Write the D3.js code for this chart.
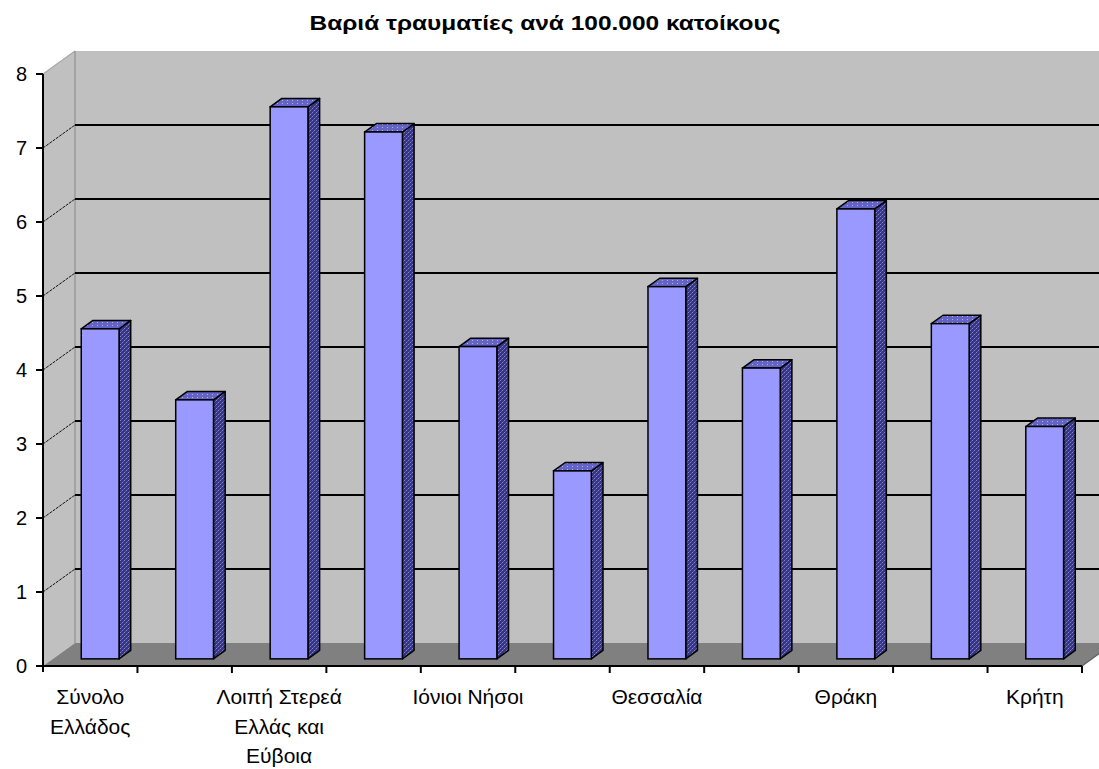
<!DOCTYPE html>
<html>
<head>
<meta charset="utf-8">
<script src="https://cdn.jsdelivr.net/npm/d3@7"></script>
<style>
  html, body { margin: 0; padding: 0; background: #fff; }
  svg { display: block; font-family: "Liberation Sans", Arial, sans-serif; }
</style>
</head>
<body>
<svg id="chart" width="1099" height="769"></svg>
<script>
// Serious injuries per 100,000 inhabitants, by region
const categories = [
  "Σύνολο Ελλάδος",
  "Περιφέρεια Πρωτευούσης",
  "Λοιπή Στερεά Ελλάς και Εύβοια",
  "Πελοπόννησος",
  "Ιόνιοι Νήσοι",
  "Ήπειρος",
  "Θεσσαλία",
  "Μακεδονία",
  "Θράκη",
  "Νήσοι Αιγαίου",
  "Κρήτη"
];
const values = [4.46, 3.50, 7.46, 7.12, 4.22, 2.54, 5.03, 3.93, 6.08, 4.53, 3.14];
const yTicks = [0, 1, 2, 3, 4, 5, 6, 7, 8];
const title = "Βαριά τραυματίες ανά 100.000 κατοίκους";

(function draw() {
  const svg = d3.select("#chart");
  const W = 1099;

  // plot frame (front plane) and 3D depth offset
  const pLeft = 43, pRight = 1082, pBottom = 666, pTop = 74;
  const DX = 32, DY = 23;          // full depth of the box
  const z0 = 0.31, z1 = 0.675;     // front/back of the columns within the depth

  const x = d3.scaleBand().domain(categories).range([pLeft, pRight])
    .paddingInner(0.6).paddingOuter(0.3);
  const xCell = d3.scaleBand().domain(categories).range([pLeft, pRight]).padding(0);
  const y = d3.scaleLinear().domain([0, 8]).range([pBottom, pTop]);

  // patterns for shaded faces
  const defs = svg.append("defs");
  const sideP = defs.append("pattern").attr("id", "sideFill")
    .attr("width", 4).attr("height", 4).attr("patternUnits", "userSpaceOnUse");
  sideP.append("rect").attr("width", 4).attr("height", 4).attr("fill", "#34348e");
  sideP.append("rect").attr("x", 0).attr("y", 0).attr("width", 1).attr("height", 1).attr("fill", "#8a8ab0");
  sideP.append("rect").attr("x", 2).attr("y", 2).attr("width", 1).attr("height", 1).attr("fill", "#8a8ab0");
  sideP.append("rect").attr("x", 1).attr("y", 3).attr("width", 1).attr("height", 1).attr("fill", "#5a5a9c");
  sideP.append("rect").attr("x", 3).attr("y", 1).attr("width", 1).attr("height", 1).attr("fill", "#5a5a9c");

  const topP = defs.append("pattern").attr("id", "topFill")
    .attr("width", 5).attr("height", 3).attr("patternUnits", "userSpaceOnUse");
  topP.append("rect").attr("width", 5).attr("height", 3).attr("fill", "#6464c8");
  topP.append("rect").attr("x", 2).attr("y", 1).attr("width", 1).attr("height", 1).attr("fill", "#b4b4cc");

  const line = d3.line();

  // back wall
  svg.append("rect")
    .attr("x", pLeft + DX).attr("y", pTop - DY)
    .attr("width", W + 40 - (pLeft + DX)).attr("height", pBottom - pTop)
    .attr("fill", "#c0c0c0");

  // side wall
  svg.append("path")
    .attr("d", line([[pLeft, y(8)], [pLeft + DX, y(8) - DY], [pLeft + DX, y(0) - DY], [pLeft, y(0)]]) + "Z")
    .attr("fill", "#c0c0c0");
  svg.append("path")
    .attr("d", line([[pLeft, y(8)], [pLeft + DX, y(8) - DY]]))
    .attr("stroke", "#a8a8a8").attr("stroke-width", 1.2).attr("fill", "none");
  svg.append("line")
    .attr("x1", pLeft + DX).attr("x2", pLeft + DX)
    .attr("y1", y(8) - DY).attr("y2", y(0) - DY)
    .attr("stroke", "#9a9a9a").attr("stroke-width", 1.5);

  // gridlines: diagonal on the side wall, horizontal on the back wall
  const grid = yTicks.filter(v => v > 0 && v < 8);
  svg.append("g").selectAll("path").data(grid).join("path")
    .attr("d", v => line([[pLeft, y(v)], [pLeft + DX, y(v) - DY]]))
    .attr("stroke", "#111").attr("stroke-width", 1).attr("stroke-dasharray", "3,1")
    .attr("fill", "none");
  svg.append("g").selectAll("line").data(grid).join("line")
    .attr("x1", pLeft + DX).attr("x2", W + 40)
    .attr("y1", v => y(v) - DY).attr("y2", v => y(v) - DY)
    .attr("stroke", "#000").attr("stroke-width", 1.8);

  // floor
  svg.append("path")
    .attr("d", line([[pLeft, y(0)], [pLeft + DX, y(0) - DY], [pRight + DX, y(0) - DY], [pRight, y(0)]]) + "Z")
    .attr("fill", "#808080");
  svg.append("path")
    .attr("d", line([[pRight, y(0)], [pRight + DX, y(0) - DY]]))
    .attr("stroke", "#606060").attr("stroke-width", 1.2).attr("fill", "none");

  // columns
  const bars = svg.append("g").selectAll("g").data(categories.map((c, i) => ({ c, v: values[i] })))
    .join("g");
  const ddx = (z1 - z0) * DX, ddy = (z1 - z0) * DY;
  bars.each(function (d) {
    const g = d3.select(this);
    const w = x.bandwidth();
    const fx = x(d.c) + z0 * DX;
    const fy0 = y(0) - z0 * DY;
    const fyv = y(d.v) - z0 * DY;
    g.append("path")
      .attr("d", line([[fx + w, fyv], [fx + w + ddx, fyv - ddy], [fx + w + ddx, fy0 - ddy], [fx + w, fy0]]) + "Z")
      .attr("fill", "url(#sideFill)").attr("stroke", "#000").attr("stroke-width", 1.5)
      .attr("stroke-linejoin", "round");
    g.append("path")
      .attr("d", line([[fx, fyv], [fx + ddx, fyv - ddy], [fx + w + ddx, fyv - ddy], [fx + w, fyv]]) + "Z")
      .attr("fill", "url(#topFill)").attr("stroke", "#000").attr("stroke-width", 1.5)
      .attr("stroke-linejoin", "round");
    g.append("rect")
      .attr("x", fx).attr("y", fyv).attr("width", w).attr("height", fy0 - fyv)
      .attr("fill", "#9999ff").attr("stroke", "#000").attr("stroke-width", 1.5);
  });

  // value axis
  svg.append("line")
    .attr("x1", pLeft).attr("x2", pLeft).attr("y1", y(8)).attr("y2", y(0) + 6)
    .attr("stroke", "#000").attr("stroke-width", 2);
  const yAxis = svg.append("g");
  yAxis.selectAll("line").data(yTicks).join("line")
    .attr("x1", pLeft - 7).attr("x2", pLeft).attr("y1", v => y(v)).attr("y2", v => y(v))
    .attr("stroke", "#000").attr("stroke-width", 2);
  yAxis.selectAll("text").data(yTicks).join("text")
    .attr("x", 27).attr("y", v => y(v)).attr("dy", "0.36em")
    .attr("text-anchor", "end").attr("font-size", 20).attr("fill", "#000")
    .text(d3.format("d"));

  // category axis
  svg.append("line")
    .attr("x1", pLeft).attr("x2", pRight).attr("y1", y(0)).attr("y2", y(0))
    .attr("stroke", "#000").attr("stroke-width", 2);
  const tickXs = categories.map(c => xCell(c) + xCell.bandwidth());
  svg.append("g").selectAll("line").data(tickXs).join("line")
    .attr("x1", d => d).attr("x2", d => d).attr("y1", y(0)).attr("y2", y(0) + 7)
    .attr("stroke", "#000").attr("stroke-width", 2);

  // category labels on every second category, wrapped
  const labelMax = 145;
  const labels = svg.append("g").selectAll("text")
    .data(categories.filter((c, i) => i % 2 === 0))
    .join("text")
    .attr("x", c => xCell(c) + xCell.bandwidth() / 2)
    .attr("y", 704)
    .attr("text-anchor", "middle").attr("font-size", 21).attr("fill", "#000");
  labels.each(function (c) {
    const t = d3.select(this);
    const words = c.split(" ");
    let lineWords = [];
    let tspan = t.append("tspan").attr("x", t.attr("x")).attr("dy", 0);
    words.forEach(wd => {
      lineWords.push(wd);
      tspan.text(lineWords.join(" "));
      if (tspan.node().getComputedTextLength() > labelMax && lineWords.length > 1) {
        lineWords.pop();
        tspan.text(lineWords.join(" "));
        lineWords = [wd];
        tspan = t.append("tspan").attr("x", t.attr("x")).attr("dy", 29.5).text(wd);
      }
    });
  });

  // title
  svg.append("text")
    .attr("x", 545).attr("y", 30)
    .attr("text-anchor", "middle").attr("font-size", 21).attr("font-weight", "bold")
    .attr("textLength", 471).attr("lengthAdjust", "spacingAndGlyphs")
    .text(title);
})();
</script>
</body>
</html>
